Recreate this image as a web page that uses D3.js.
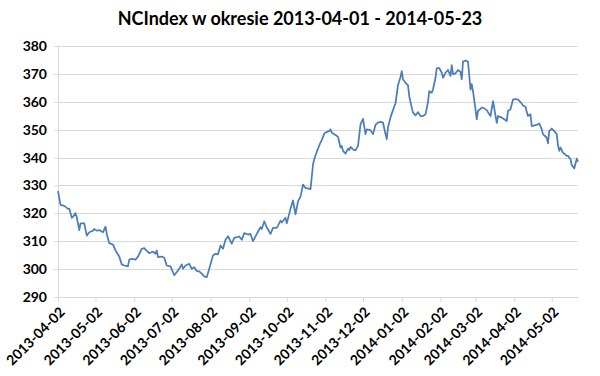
<!DOCTYPE html>
<html>
<head>
<meta charset="utf-8">
<script src="https://cdn.jsdelivr.net/npm/d3@7"></script>
<style>
  body { margin: 0; background: #fff; }
  text { font-family: Lato, "Open Sans", sans-serif; }
</style>
</head>
<body>
<div id="chart"></div>
<script>
// chart data: index value per trading day (days counted from 2013-04-02)
var startDate = "2013-04-02";
var endDate = "2014-05-23";
var dayOffsets = [0, 2, 5, 8, 9, 11, 12, 14, 15, 17, 18, 21, 23, 25, 27, 28, 29, 31, 33, 36, 38, 39, 41, 44, 46, 49, 51, 53, 56, 57, 59, 62, 64, 67, 69, 70, 73, 76, 78, 79, 80, 83, 85, 87, 90, 93, 96, 99, 100, 102, 105, 107, 109, 111, 113, 115, 117, 119, 121, 124, 126, 128, 130, 132, 134, 136, 139, 141, 145, 147, 149, 152, 154, 156, 159, 162, 163, 165, 167, 170, 172, 175, 176, 178, 179, 182, 183, 186, 188, 190, 192, 194, 196, 198, 202, 203, 204, 205, 207, 210, 211, 213, 215, 217, 218, 219, 222, 224, 226, 227, 228, 230, 232, 233, 234, 236, 238, 240, 242, 244, 246, 247, 250, 252, 254, 256, 258, 260, 262, 263, 264, 266, 268, 270, 272, 274, 275, 276, 278, 280, 281, 283, 284, 286, 288, 290, 292, 294, 296, 297, 299, 300, 302, 303, 305, 307, 308, 310, 312, 314, 315, 316, 318, 320, 322, 323, 324, 326, 328, 330, 331, 332, 334, 335, 336, 339, 340, 343, 345, 346, 348, 351, 352, 355, 357, 359, 360, 362, 364, 366, 368, 370, 372, 374, 375, 376, 378, 379, 382, 384, 385, 387, 388, 391, 392, 393, 395, 397, 399, 400, 401, 402, 404, 407, 408, 410, 411, 413, 415, 416];
var indexValues = [328, 323, 322.7, 321.6, 321.7, 318.4, 318.8, 320.1, 318.6, 314, 316.4, 316.4, 312, 313.2, 313.6, 313.8, 314.4, 313.8, 314, 313.2, 315.2, 312.6, 309.3, 308.8, 306.7, 304.5, 301.7, 301.3, 301, 303.4, 303.7, 303.4, 304.5, 307.3, 307.5, 307, 305.7, 306.3, 305.5, 306.7, 304.3, 304.5, 304.1, 301.3, 301, 297.8, 299.5, 301.7, 300.1, 301.3, 301.9, 300.1, 300.7, 299.3, 299.2, 298.4, 297.4, 297.1, 300.1, 304.9, 305.5, 305.3, 308.5, 307.3, 310.5, 311.8, 309.1, 311.2, 311.7, 310.5, 312.9, 312.4, 312.6, 310, 312.6, 315, 314.4, 317.1, 315, 312.6, 314.8, 314.8, 315.6, 317.4, 316.7, 318.4, 316.4, 321.6, 324.6, 319.6, 324.3, 326, 330.3, 329.1, 328.7, 333, 337.5, 339.4, 342.1, 345.4, 346.2, 348.6, 349.2, 349.5, 350.1, 348.9, 348.1, 347.4, 343.6, 344.2, 342.4, 341.4, 343.2, 342.7, 343.8, 342.9, 342.6, 344.2, 351.9, 353.9, 348.4, 350.1, 349.8, 348.4, 351.7, 352.5, 352.8, 352.5, 348.4, 346.6, 350.8, 354.4, 357, 359.5, 366, 368.9, 371, 368, 366.8, 365.9, 362, 357.9, 356.1, 355.1, 356.3, 354.9, 354.9, 355.5, 359.9, 363.8, 363.2, 364.4, 368.6, 372.1, 372.1, 370.4, 368.6, 370.4, 371.4, 369.3, 373.1, 369.9, 370.2, 371.4, 370.7, 368, 374.4, 374.8, 374.4, 364.4, 366.3, 363.8, 357.3, 353.7, 356.7, 357.9, 357.9, 357, 355.5, 354.9, 360.2, 352.4, 354.9, 354.3, 353.7, 353.1, 356.7, 357.3, 360.8, 361, 360.8, 359.9, 358.7, 358.2, 356.3, 354.9, 355.5, 351.3, 351.6, 351.9, 352.2, 350.1, 348.4, 347.1, 345.1, 349.5, 350.4, 349.5, 348.4, 344.4, 342.4, 343.6, 341.8, 340.6, 340.6, 339.4, 337.3, 336.1, 339.6, 338.5];
var yTicks = [290, 300, 310, 320, 330, 340, 350, 360, 370, 380];
var xTickLabels = ["2013-04-02", "2013-05-02", "2013-06-02", "2013-07-02", "2013-08-02", "2013-09-02", "2013-10-02",
  "2013-11-02", "2013-12-02", "2014-01-02", "2014-02-02", "2014-03-02", "2014-04-02", "2014-05-02"];
var chartTitle = "NCIndex w okresie 2013-04-01 - 2014-05-23";

var W = 600, H = 376;
var margin = { top: 46, right: 22, bottom: 79, left: 58 },
  width = W - margin.left - margin.right,
  height = H - margin.top - margin.bottom;

var parse = d3.timeParse("%Y-%m-%d");
var fmt = d3.timeFormat("%Y-%m-%d");
var start = parse(startDate);

var data = dayOffsets.map(function (d, i) {
  return { date: d3.timeDay.offset(start, d), value: indexValues[i] };
});

var svg = d3.select("#chart")
  .append("svg")
  .attr("width", W)
  .attr("height", H);

var g = svg.append("g")
  .attr("transform", "translate(" + margin.left + "," + margin.top + ")");

var x = d3.scaleTime().domain([start, parse(endDate)]).range([0, width]);
var y = d3.scaleLinear().domain([290, 380]).range([height, 0]);

// horizontal gridlines
g.append("g")
  .selectAll("line")
  .data(yTicks.slice(1))
  .enter().append("line")
  .attr("x1", 0)
  .attr("x2", width)
  .attr("y1", d => Math.round(y(d)) + 0.5)
  .attr("y2", d => Math.round(y(d)) + 0.5)
  .attr("stroke", "#d9d9d9")
  .attr("stroke-width", 1);

// Y axis
var yAxis = g.append("g")
  .call(d3.axisLeft(y).tickValues(yTicks).tickSize(4).tickSizeOuter(0).tickPadding(7));
yAxis.select(".domain").attr("stroke", "#d9d9d9");
yAxis.selectAll(".tick line").attr("stroke", "#d9d9d9");
yAxis.selectAll("text")
  .attr("fill", "#000")
  .style("font-size", "14px")
  .style("font-weight", "bold");

// X axis
var xAxis = g.append("g")
  .attr("transform", "translate(0," + height + ")")
  .call(d3.axisBottom(x).tickValues(xTickLabels.map(parse)).tickFormat(fmt).tickSize(5).tickSizeOuter(0));
xAxis.select(".domain").attr("stroke", "#d9d9d9");
xAxis.selectAll(".tick line").attr("stroke", "#d9d9d9");
xAxis.selectAll("text")
  .attr("fill", "#000")
  .style("font-size", "14px")
  .style("font-weight", "bold")
  .style("text-anchor", "end")
  .attr("dx", "-0.45em")
  .attr("dy", "0.6em")
  .attr("transform", "rotate(-45)");

// the line
var line = d3.line()
  .x(d => x(d.date))
  .y(d => y(d.value));

g.append("path")
  .datum(data)
  .attr("fill", "none")
  .attr("stroke", "#4a7ebb")
  .attr("stroke-width", 1.75)
  .attr("stroke-linejoin", "round")
  .attr("d", line);

// title
svg.append("text")
  .attr("x", W / 2)
  .attr("y", 25)
  .attr("text-anchor", "middle")
  .style("font-size", "18px")
  .style("font-weight", "bold")
  .text(chartTitle);
</script>
</body>
</html>
